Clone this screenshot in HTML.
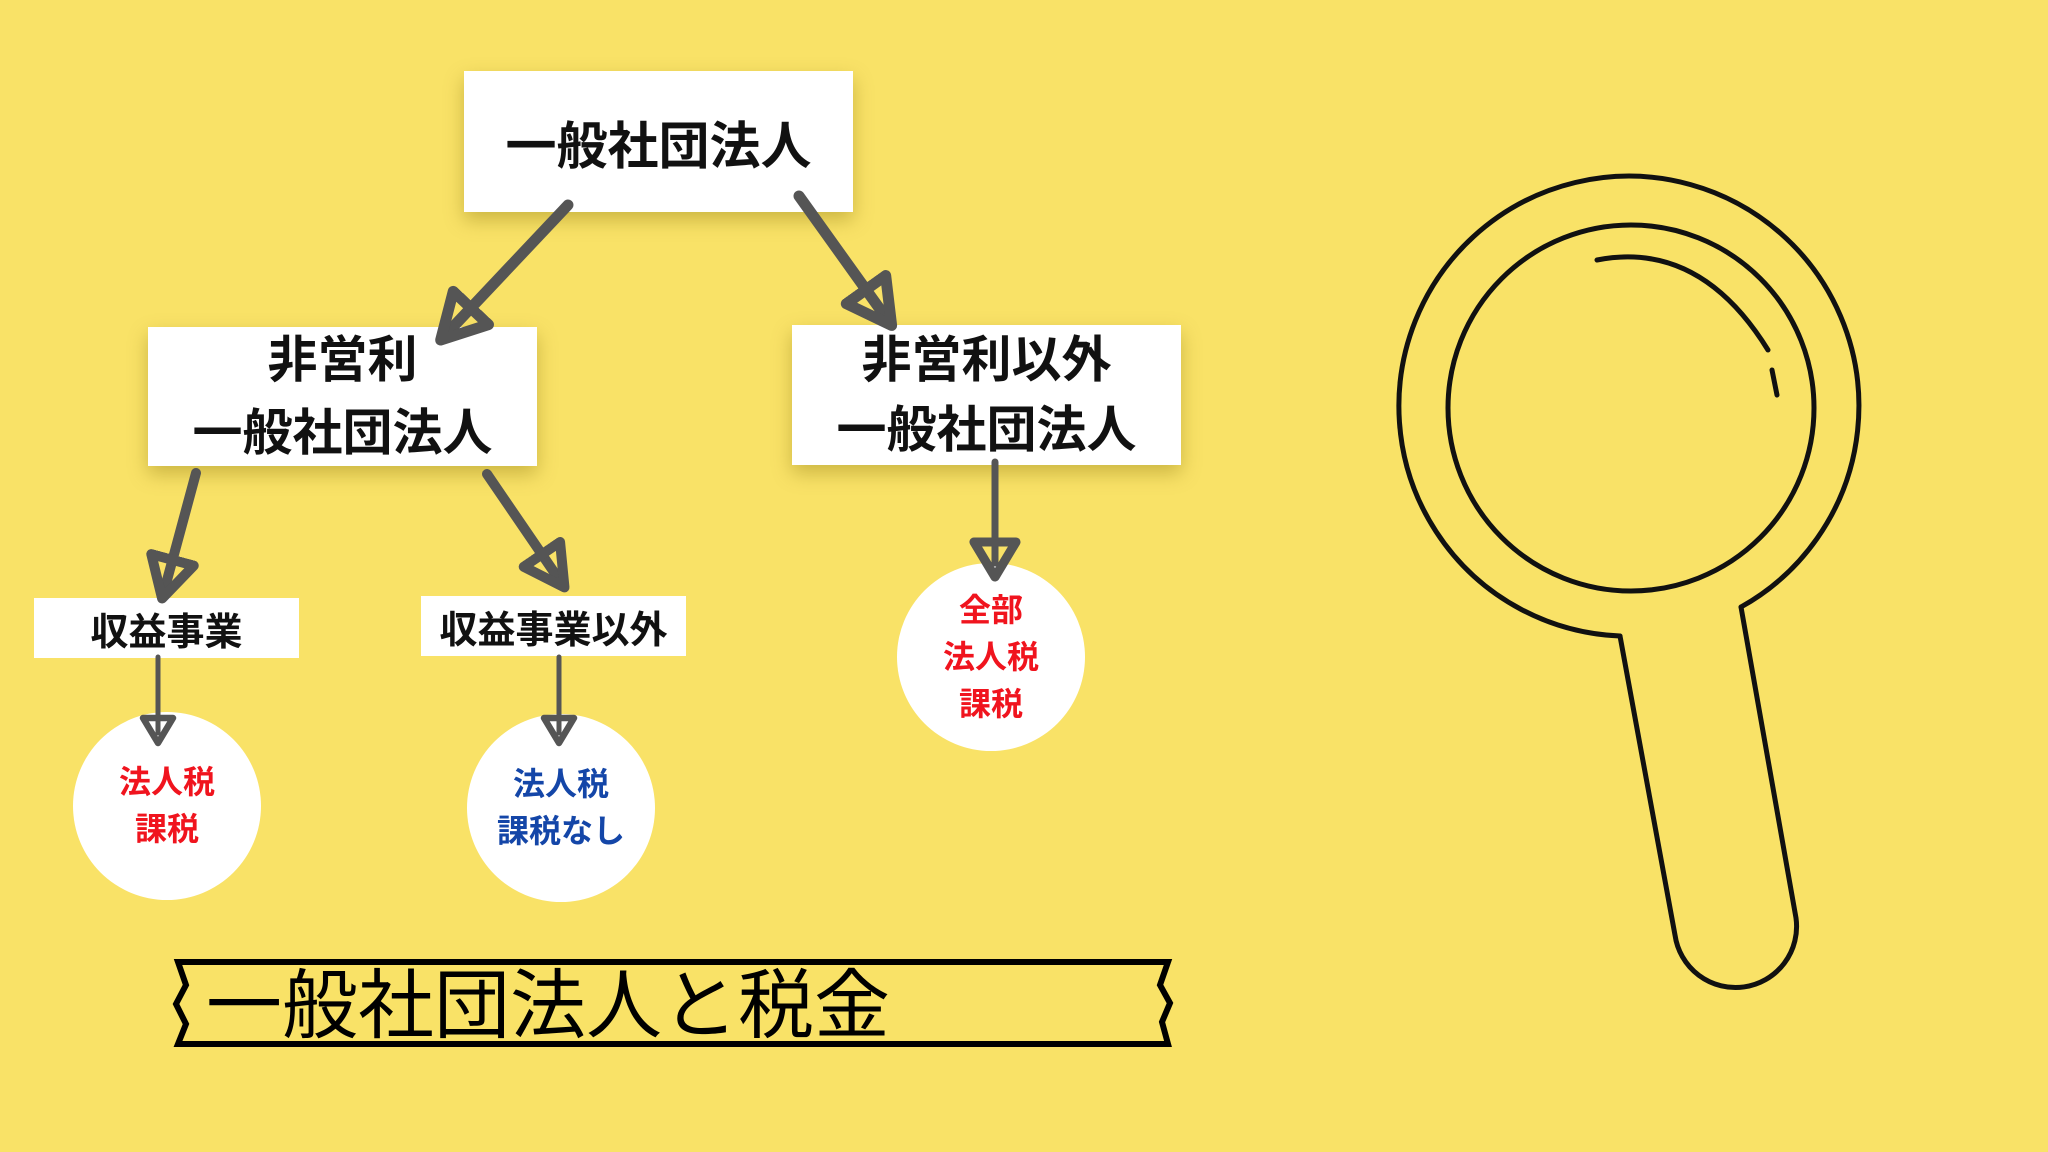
<!DOCTYPE html>
<html><head><meta charset="utf-8"><style>
body{margin:0;width:2048px;height:1152px;background:#f9e267;overflow:hidden;position:relative;font-family:"Liberation Sans","Noto Sans CJK JP",sans-serif}
.b{position:absolute;background:#fff;display:flex;align-items:center;justify-content:center;text-align:center;font-weight:bold;color:#111;box-shadow:0 8px 18px rgba(120,100,0,.35)}
.c{position:absolute;background:#fff;border-radius:50%;display:flex;align-items:center;justify-content:center;text-align:center;font-weight:bold;font-size:32px;line-height:47px}
svg{position:absolute;left:0;top:0}
</style></head><body>
<div class="b" style="left:464px;top:71px;width:389px;height:141px;font-size:51px">一般社団法人</div>
<div class="b" style="left:148px;top:327px;width:389px;height:139px;font-size:50px;line-height:73px">非営利<br>一般社団法人</div>
<div class="b" style="left:792px;top:325px;width:389px;height:140px;font-size:50px;line-height:70px">非営利以外<br>一般社団法人</div>
<div class="b" style="left:34px;top:598px;width:265px;height:60px;font-size:38px;box-shadow:none">収益事業</div>
<div class="b" style="left:421px;top:596px;width:265px;height:60px;font-size:38px;box-shadow:none">収益事業以外</div>
<div class="c" style="left:73px;top:712px;width:188px;height:188px;color:#f0141e">法人税<br>課税</div>
<div class="c" style="left:467px;top:714px;width:188px;height:188px;color:#1446a8">法人税<br>課税なし</div>
<div class="c" style="left:897px;top:563px;width:188px;height:188px;color:#f0141e">全部<br>法人税<br>課税</div>
<svg width="2048" height="1152">
<defs><marker id="m" markerWidth="6" markerHeight="6" refX="3" refY="3" orient="auto" markerUnits="strokeWidth"><path d="M0.5,0.8 L4.5,3 L0.5,5.2 Z" fill="none" stroke="#555" stroke-width="1" stroke-linejoin="round"/></marker>
<marker id="s" markerWidth="8" markerHeight="8" refX="4" refY="4" orient="auto" markerUnits="strokeWidth"><path d="M1,1 L6,4 L1,7 Z" fill="none" stroke="#555" stroke-width="1.3" stroke-linejoin="round"/></marker></defs>
<g stroke="#555" stroke-linecap="round" fill="none">
<line x1="568" y1="205" x2="452" y2="328" stroke-width="11" marker-end="url(#m)"/>
<line x1="799" y1="196" x2="882" y2="312" stroke-width="11" marker-end="url(#m)"/>
<line x1="196" y1="473" x2="166" y2="584" stroke-width="10" marker-end="url(#m)"/>
<line x1="487" y1="474" x2="556" y2="575" stroke-width="10" marker-end="url(#m)"/>
<line x1="995" y1="462" x2="995" y2="563" stroke-width="7" marker-end="url(#s)"/>
<line x1="158" y1="657" x2="158" y2="733" stroke-width="5" marker-end="url(#s)"/>
<line x1="559" y1="657" x2="559" y2="733" stroke-width="5" marker-end="url(#s)"/>
</g>
<path d="M178,962 L1168,962 L1160,985 L1170,1003 L1162,1022 L1168,1044 L178,1044 L186,1024 L176,1004 L186,985 Z" fill="none" stroke="#000" stroke-width="6" stroke-linejoin="miter"/>
<text x="206" y="1032" font-size="76" font-family="Liberation Sans, Noto Sans CJK JP, sans-serif" fill="#000">一般社団法人と税金</text>
<g stroke="#111" stroke-width="5" fill="none" stroke-linecap="round">
<path d="M1620,636 A230,230 0 1 1 1741,607"/>
<circle cx="1631" cy="408" r="183"/>
<path d="M1620,636 L1675,935 A61,61 0 0 0 1796,918 L1741,607"/>
<path d="M1597,260 Q1700,240 1768,350"/>
<path d="M1772,370 L1777,395"/>
</g>
</svg>
</body></html>
